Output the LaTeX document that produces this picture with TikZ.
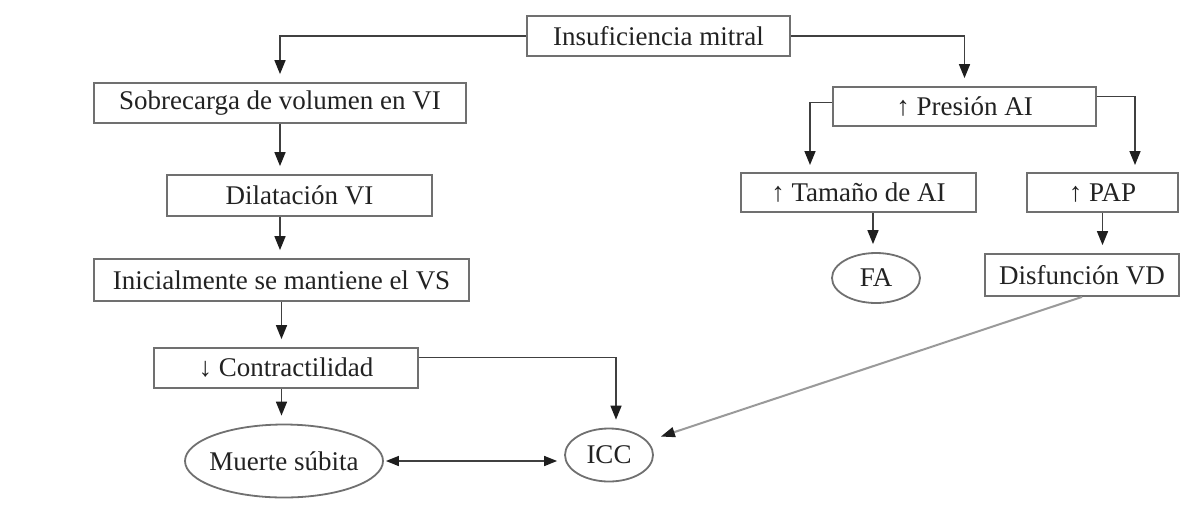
\documentclass[tikz,border=0pt]{standalone}
\usepackage{fontspec}
\setmainfont{Liberation Serif}
\usetikzlibrary{arrows.meta,shapes.geometric,calc}
\definecolor{ink}{HTML}{222222}
\definecolor{frame}{HTML}{707070}
\definecolor{wire}{HTML}{404040}
\definecolor{faint}{HTML}{9A9A9A}
\definecolor{tipfill}{HTML}{1E1E1E}
\begin{document}
\begin{tikzpicture}[x=1pt,y=-1pt,
  every node/.style={text=ink,font=\fontsize{27}{31}\selectfont,inner sep=0pt},
  box/.style={draw=frame,line width=1.8pt,rectangle,minimum height=40pt},
  oval/.style={draw=frame,line width=1.8pt,ellipse,inner xsep=-16pt},
  arr/.style={draw=wire,line width=1.6pt,-{Triangle[length=14pt,width=11pt,fill=tipfill,color=tipfill]},shorten >=8pt},
  twoway/.style={draw=wire,line width=1.6pt,{Triangle[length=13pt,width=10pt,fill=tipfill,color=tipfill]}-{Triangle[length=13pt,width=10pt,fill=tipfill,color=tipfill]},shorten >=7pt,shorten <=2pt},
  slant/.style={draw=faint,line width=2pt,-{Triangle[length=14pt,width=10pt,fill=tipfill,color=tipfill]},shorten >=14pt}
]
\useasboundingbox (0,0) rectangle (1182,504);
\fill[white] (0,0) rectangle (1182,504);

% left chain
\node[box,minimum width=263pt] (ins) at (658.5,36) {Insuficiencia mitral};
\node[box,minimum width=372pt] (sob) at (280,103) {Sobrecarga de volumen en VI};
\node[box,minimum width=265pt,minimum height=41pt] (dil) at (299.5,195.5) {Dilatación VI};
\node[box,minimum width=375pt,minimum height=42pt] (ini) at (281.5,280) {Inicialmente se mantiene el VS};
\node[box,minimum width=264pt] (con) at (286,368) {↓ Contractilidad};
\node[oval,minimum width=198pt,minimum height=73pt] (mue) at (284,461) {Muerte súbita};
\node[oval,minimum width=88pt,minimum height=53pt] (icc) at (609,455) {ICC};

% right chain
\node[box,minimum width=263pt,minimum height=39pt] (pre) at (964.5,106.5) {↑ Presión AI};
\node[box,minimum width=235pt,minimum height=39pt] (tam) at (858.5,192.5) {↑ Tamaño de AI};
\node[box,minimum width=151pt,minimum height=39pt] (pap) at (1102.5,192.5) {↑ PAP};
\node[oval,minimum width=88pt,minimum height=50pt] (fa) at (876,278) {FA};
\node[box,minimum width=194pt,minimum height=42pt] (dis) at (1082,275) {Disfunción VD};

\coordinate (tamin) at (810,173);
\coordinate (papin) at (1135,173);

% connectors
\draw[arr] (ins.west) -| (sob.north);
\draw[arr] (ins.east) -| (pre.north);
\draw[arr] (sob.south) -- (sob.south |- dil.north);
\draw[arr] (sob.south |- dil.south) -- (sob.south |- ini.north);
\draw[arr] (ini.south) -- (ini.south |- con.north);
\draw[arr] (ini.south |- con.south) -- (ini.south |- mue.north);
\draw[arr] ($(con.north east)!0.25!(con.south east)$) -| ([xshift=7pt]icc.north);
\draw[twoway] (mue.east) -- (mue.east -| icc.west);
\draw[arr] ($(pre.north west)!0.4!(pre.south west)$) -| (tamin);
\draw[arr] ($(pre.north east)!0.25!(pre.south east)$) -| (papin);
\draw[arr] ([xshift=-3pt]fa.north |- tam.south) -- ([xshift=-3pt]fa.north);
\draw[arr] (pap.south) -- (pap.south |- dis.north);
\draw[slant] (dis.south) -- (icc.20);
\end{tikzpicture}
\end{document}
